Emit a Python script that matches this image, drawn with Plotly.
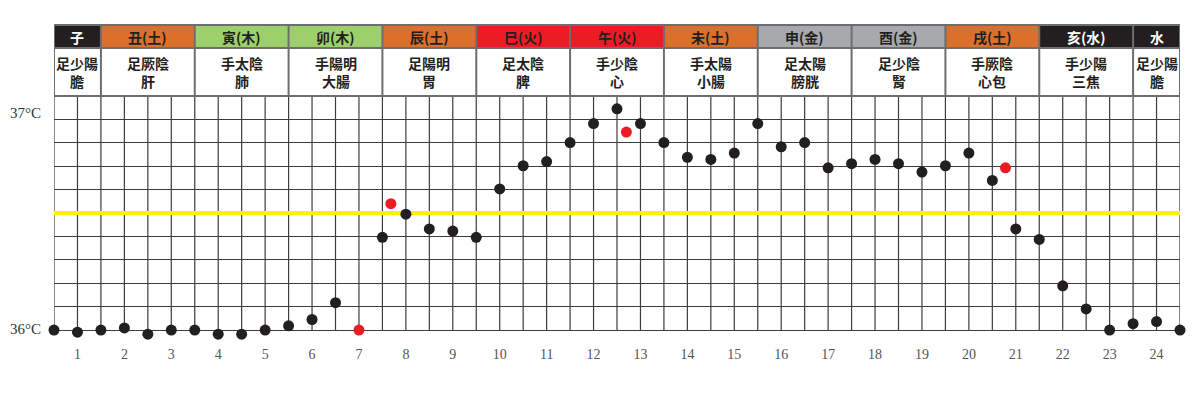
import plotly.graph_objects as go

# ---------------- data ----------------
# x positions are half-hour slots (0..48); hour label k sits on slot 2k-1
black_slots = [0, 1, 2, 3, 4, 5, 6, 7, 8, 9, 10, 11, 12,
               14, 15, 16, 17, 18, 19, 20, 21, 22, 23, 24, 25, 26, 27, 28, 29, 30,
               31, 32, 33, 34, 35, 36, 37, 38, 39, 40, 41, 42, 43, 44, 45, 46, 47, 48]
black_temps = [36.00, 35.99, 36.00, 36.01, 35.98, 36.00, 36.00, 35.98, 35.98, 36.00, 36.02, 36.05, 36.13,
               36.44, 36.55, 36.48, 36.47, 36.44, 36.67, 36.78, 36.80, 36.89, 36.98, 37.05, 36.98, 36.89,
               36.82, 36.81, 36.84, 36.98, 36.87, 36.89, 36.77, 36.79, 36.81, 36.79, 36.75, 36.78, 36.84,
               36.71, 36.48, 36.43, 36.21, 36.10, 36.00, 36.03, 36.04, 36.00]
red_slots = [13, 14.36, 24.4, 40.56]
red_temps = [36.00, 36.60, 36.94, 36.77]
reference_temp = 36.556

hour_labels = [str(h) for h in range(1, 25)]
temp_labels = {36.0: "36°C", 37.0: "37°C"}

branches = ["子", "丑(土)", "寅(木)", "卯(木)", "辰(土)", "巳(火)", "午(火)",
            "未(土)", "申(金)", "酉(金)", "戌(土)", "亥(水)", "水"]
branch_spans = [2, 4, 4, 4, 4, 4, 4, 4, 4, 4, 4, 4, 2]
meridians = ["足少陽<br>膽", "足厥陰<br>肝", "手太陰<br>肺", "手陽明<br>大腸", "足陽明<br>胃",
             "足太陰<br>脾", "手少陰<br>心", "手太陽<br>小腸", "足太陽<br>膀胱", "足少陰<br>腎",
             "手厥陰<br>心包", "手少陽<br>三焦", "足少陽<br>膽"]

# ---------------- styles ----------------
BLACK = "#231f20"
ORANGE = "#d9702c"
GREEN = "#9dcf6b"
RED = "#ed1c24"
GRAY = "#a7a9ac"
GRID = "#3d3d3d"
branch_colors = [BLACK, ORANGE, GREEN, GREEN, ORANGE, RED, RED, ORANGE, GRAY, GRAY, ORANGE, BLACK, BLACK]
branch_text = ["white" if c == BLACK else BLACK for c in branch_colors]

W, H = 1200, 393
PAGE = 8  # the browser's default page margin shifts the figure right/down
# target page pixels: plot left 54, right 1180, top 96, bottom 342
ML = 54 - PAGE
MR = W - (1180 - PAGE)
MT = 96 - PAGE
MB = H - (342 - PAGE)
plot_h = H - MT - MB

def py(px):  # page pixel y (from top) -> paper y
    return 1 + (MT - (px - PAGE)) / plot_h

n_slots = sum(branch_spans)
y_lo = 36.0
y_step = 1 / 9
y_top = y_lo + 10 * y_step
px_per_deg = 9 * 23.44
y_bottom = y_lo - 12 / px_per_deg   # a little room below 36 °C so low dots are kept
y_ticks = [y_lo + k * y_step for k in range(11)]

fig = go.Figure()

shapes = []
x_ticks = list(range(n_slots + 1))
# vertical grid lines (from 36 °C up to the top)
for xv in x_ticks:
    shapes.append(dict(type="line", xref="x", yref="y", x0=xv, x1=xv, y0=y_lo, y1=y_top,
                       line=dict(color=GRID, width=1.2), layer="below"))
# yellow reference line
shapes.append(dict(type="line", xref="x", yref="y", x0=0, x1=n_slots,
                   y0=reference_temp, y1=reference_temp,
                   line=dict(color="#fff200", width=4), layer="between"))

fig.add_trace(go.Scatter(
    x=black_slots, y=black_temps, mode="markers",
    marker=dict(color=BLACK, size=11, line=dict(width=0)),
    cliponaxis=False, hoverinfo="skip", showlegend=False))
fig.add_trace(go.Scatter(
    x=red_slots, y=red_temps, mode="markers",
    marker=dict(color=RED, size=11, line=dict(width=0)),
    cliponaxis=False, hoverinfo="skip", showlegend=False))

annotations = []
# temperature labels on the left
for val, txt in temp_labels.items():
    annotations.append(dict(x=0, y=val, xref="paper", yref="y", text=txt, showarrow=False,
                            xanchor="right", yanchor="middle", xshift=-11,
                            yshift=(6 if val > y_lo else 1),
                            font=dict(family="Liberation Serif", size=15, color="#333")))

top1, mid, bot = py(25), py(48), py(96)
start = 0
hfont = "Noto Sans CJK TC"
for name, span, col, tcol, mer in zip(branches, branch_spans, branch_colors, branch_text, meridians):
    end = start + span
    shapes.append(dict(type="rect", xref="x", yref="paper", x0=start, x1=end, y0=mid, y1=top1,
                       fillcolor=col, line=dict(width=0), layer="above"))
    annotations.append(dict(x=(start + end) / 2, y=(top1 + mid) / 2, xref="x", yref="paper",
                            text=name, showarrow=False, xanchor="center", yanchor="middle",
                            font=dict(family=hfont, size=14, color=tcol, weight=600)))
    annotations.append(dict(x=(start + end) / 2, y=(mid + bot) / 2, xref="x", yref="paper",
                            text=mer, showarrow=False, xanchor="center", yanchor="middle",
                            font=dict(family=hfont, size=14, color=BLACK, weight=600)))
    start = end

# header grid lines
bounds = [0]
for s in branch_spans:
    bounds.append(bounds[-1] + s)
for b in bounds:
    shapes.append(dict(type="line", xref="x", yref="paper", x0=b, x1=b, y0=bot, y1=top1,
                       line=dict(color="#6d6e71", width=2), layer="above"))
for yy in (top1, mid, bot):
    shapes.append(dict(type="line", xref="x", yref="paper", x0=0, x1=n_slots, y0=yy, y1=yy,
                       line=dict(color="#6d6e71", width=2), layer="above"))

x_text = [hour_labels[(i - 1) // 2] if i % 2 == 1 else "" for i in x_ticks]

fig.update_layout(
    width=W, height=H,
    margin=dict(l=ML, r=MR, t=MT, b=MB),
    paper_bgcolor="white", plot_bgcolor="white",
    shapes=shapes, annotations=annotations,
    xaxis=dict(range=[0, n_slots], tickvals=x_ticks, ticktext=x_text,
               showgrid=False, showline=False, automargin=False,
               ticks="", ticklabelstandoff=2, zeroline=False, fixedrange=True,
               tickfont=dict(family="Liberation Serif", size=14, color="#555")),
    yaxis=dict(range=[y_bottom, y_top], tickvals=y_ticks, showticklabels=False,
               showgrid=True, gridcolor=GRID, gridwidth=1.2,
               showline=False, automargin=False,
               ticks="", zeroline=False, fixedrange=True),
)

fig.write_html("out.html")
